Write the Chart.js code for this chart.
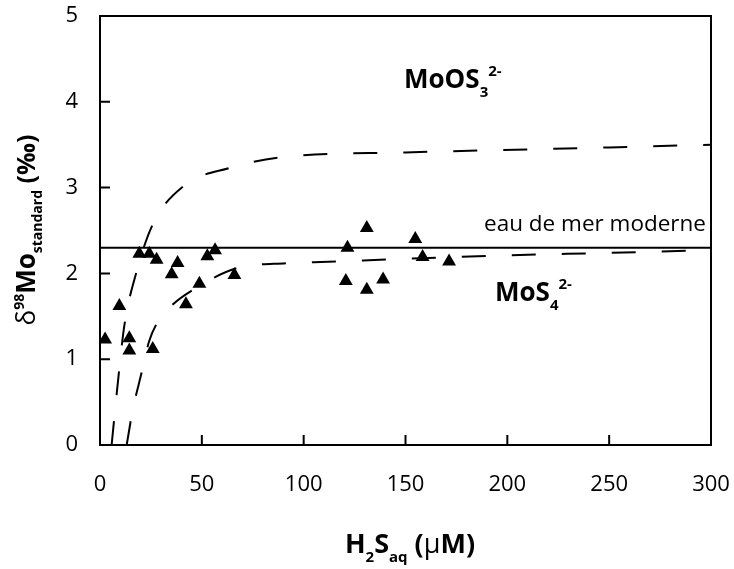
<!DOCTYPE html>
<html>
<head>
<meta charset="utf-8">
<script src="https://cdn.jsdelivr.net/npm/chart.js@4/dist/chart.umd.min.js"></script>
<style>
  html, body { margin: 0; padding: 0; background: #fff; }
  #wrap { width: 734px; height: 569px; }
</style>
</head>
<body>
<div id="wrap"><canvas id="myChart" width="734" height="569"></canvas></div>
<script>
// measured samples (H2S in µM, d98Mo in permil)
let sampleX = [2.5, 9.5, 14.4, 14.4, 19.3, 24.2, 27.8, 25.9, 35.2, 38.1, 42.2, 48.8, 52.7, 56.5, 66,
               121.5, 131, 154.8, 158.4, 171.4, 120.7, 131, 139];
let sampleY = [1.23, 1.62, 1.245, 1.10, 2.23, 2.23, 2.16, 1.12, 1.99, 2.12, 1.64, 1.88, 2.20, 2.27, 1.98,
               2.30, 2.53, 2.40, 2.19, 2.14, 1.91, 1.81, 1.93];

// dashed trend curves
let upperX = [5.7, 9.3, 12, 17.7, 25.9, 41.2, 63.8, 87.5, 150, 220, 300];
let upperY = [0, 0.85, 1.40, 2.0, 2.57, 3.02, 3.23, 3.35, 3.41, 3.45, 3.5];
let lowerX = [13.1, 16, 20.5, 24, 27.5, 35, 45.8, 67, 91.6, 105, 150, 200, 250, 300];
let lowerY = [0, 0.4, 0.85, 1.2, 1.40, 1.62, 1.81, 2.06, 2.12, 2.13, 2.17, 2.21, 2.24, 2.27];

// modern seawater value
let seawater = 2.3;
let seawaterX = [0, 300];

let xTicks = [0, 50, 100, 150, 200, 250, 300];
let yTicks = [0, 1, 2, 3, 4, 5];

const toXY = (xs, ys) => xs.map((x, i) => ({ x: x, y: ys[i] }));

const FONT = "'Open Sans', 'Noto Sans', sans-serif";

// draws a run of text pieces (normal / sub / sup) on one baseline
const drawRich = (ctx, parts, x, y, align) => {
    let total = 0;
    parts.forEach(p => {
        ctx.font = p.font;
        p.w = ctx.measureText(p.t).width;
        total += p.w;
    });
    let cx = align === 'center' ? x - total / 2 : x;
    parts.forEach(p => {
        ctx.font = p.font;
        ctx.fillText(p.t, cx, y + (p.dy || 0));
        cx += p.w;
    });
};

const framePlugin = {
    id: 'frame_ticks_labels',
    afterDraw: (chart) => {
        const ctx = chart.ctx;
        const a = chart.chartArea;
        const xs = chart.scales.x;
        const ys = chart.scales.y;
        ctx.save();
        ctx.strokeStyle = '#000';
        ctx.lineWidth = 2;
        ctx.strokeRect(a.left, a.top, a.right - a.left, a.bottom - a.top);
        ctx.beginPath();
        yTicks.forEach(v => {
            let py = ys.getPixelForValue(v);
            ctx.moveTo(a.left, py);
            ctx.lineTo(a.left + 10, py);
        });
        xTicks.forEach(v => {
            let px = xs.getPixelForValue(v);
            ctx.moveTo(px, a.bottom);
            ctx.lineTo(px, a.bottom - 10);
        });
        ctx.stroke();

        ctx.fillStyle = '#000';
        ctx.textBaseline = 'alphabetic';

        // annotations
        ctx.font = "22.5px " + FONT;
        ctx.textAlign = 'right';
        ctx.fillText('eau de mer moderne', a.right - 5, ys.getPixelForValue(seawater) - 17);
        ctx.textAlign = 'left';

        const B = (s) => "bold " + s + "px " + FONT;
        drawRich(ctx, [
            { t: 'MoOS', font: B(26) },
            { t: '3', font: B(15), dy: 9 },
            { t: '2-', font: B(15), dy: -12 }
        ], 404, 88);
        drawRich(ctx, [
            { t: 'MoS', font: B(26) },
            { t: '4', font: B(15), dy: 9 },
            { t: '2-', font: B(15), dy: -12 }
        ], 495, 301);

        // x title
        drawRich(ctx, [
            { t: 'H', font: B(27) },
            { t: '2', font: B(15), dy: 9 },
            { t: 'S', font: B(27) },
            { t: 'aq', font: B(15), dy: 9 },
            { t: ' (', font: B(27) },
            { t: 'μ', font: "27px " + FONT },
            { t: 'M)', font: B(27) }
        ], 410, 553, 'center');

        // y title
        ctx.translate(35, 230);
        ctx.rotate(-Math.PI / 2);
        drawRich(ctx, [
            { t: 'δ', font: "26px " + FONT },
            { t: '98', font: B(14), dy: -11 },
            { t: 'Mo', font: B(26) },
            { t: 'standard', font: B(14), dy: 7 },
            { t: ' (‰)', font: B(25) }
        ], 0, 0, 'center');
        ctx.restore();
    }
};

const dashed = (xs, ys) => ({
    type: 'line',
    data: toXY(xs, ys),
    borderColor: '#000',
    borderWidth: 2,
    borderDash: [24, 26],
    pointRadius: 0,
    fill: false,
    cubicInterpolationMode: 'monotone'
});

var ctx = document.getElementById("myChart").getContext("2d");

var myChart = new Chart(ctx, {
    type: 'scatter',
    plugins: [framePlugin],
    data: {
        datasets: [
            {
                type: 'line',
                data: toXY(seawaterX, [seawater, seawater]),
                borderColor: '#000',
                borderWidth: 2,
                pointRadius: 0,
                fill: false
            },
            dashed(upperX, upperY),
            dashed(lowerX, lowerY),
            {
                data: toXY(sampleX, sampleY),
                pointStyle: 'triangle',
                pointRadius: 8,
                pointHoverRadius: 8,
                backgroundColor: '#000',
                borderColor: '#000',
                borderWidth: 0
            }
        ]
    },
    options: {
        responsive: false,
        animation: false,
        events: [],
        layout: { padding: { top: 16, right: 23, left: 0, bottom: 0 } },
        plugins: { legend: { display: false }, tooltip: { enabled: false } },
        scales: {
            x: {
                type: 'linear',
                min: 0,
                max: 300,
                afterBuildTicks: (s) => { s.ticks = xTicks.map(v => ({ value: v })); },
                afterFit: (s) => {
                    s.height = 124;
                    s.paddingLeft = 0; s.paddingRight = 0;
                },
                grid: { display: false, drawTicks: false },
                border: { display: false },
                ticks: { color: '#000', padding: 27, maxRotation: 0, font: { family: FONT, size: 22 } }
            },
            y: {
                type: 'linear',
                min: 0,
                max: 5,
                afterBuildTicks: (s) => { s.ticks = yTicks.map(v => ({ value: v })); },
                afterFit: (s) => {
                    s.width = 100;
                    s.paddingTop = 0; s.paddingBottom = 0;
                },
                grid: { display: false, drawTicks: false },
                border: { display: false },
                ticks: { color: '#000', padding: 22, font: { family: FONT, size: 22 } }
            }
        }
    }
});
</script>
</body>
</html>
